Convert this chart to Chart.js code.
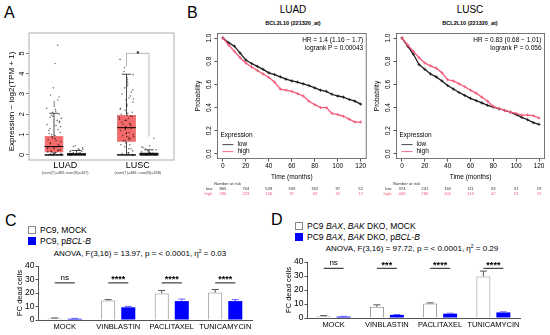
<!DOCTYPE html>
<html><head><meta charset="utf-8">
<script src="https://cdn.jsdelivr.net/npm/chart.js@4.4.1/dist/chart.umd.min.js"></script>
<style>
html,body{margin:0;padding:0;background:#fff;}
body{width:550px;height:335px;position:relative;overflow:hidden;font-family:"Liberation Sans",Arial,sans-serif;color:#000;}
canvas{position:absolute;}
.t{position:absolute;white-space:nowrap;line-height:1;}
.c{transform:translateX(-50%);}
.sw{position:absolute;width:8px;height:8px;box-sizing:border-box;}
</style></head><body>
<div class="t" style="left:4px;top:5px;font-size:16px">A</div>
<div class="t" style="left:187px;top:5px;font-size:16px">B</div>
<div class="t" style="left:5px;top:213px;font-size:16px">C</div>
<div class="t" style="left:271px;top:212px;font-size:16px">D</div>

<div class="t c" style="left:293px;top:5px;font-size:10px">LUAD</div>
<div class="t c" style="left:293px;top:21px;font-size:5.5px;font-weight:bold">BCL2L10 (221320_at)</div>
<div class="t c" style="left:470px;top:5px;font-size:10px">LUSC</div>
<div class="t c" style="left:470px;top:21px;font-size:5.5px;font-weight:bold">BCL2L10 (221320_at)</div>

<div class="sw" style="left:28px;top:226px;border:1px solid #888;background:#fff"></div>
<div class="t" style="left:40px;top:226px;font-size:8.5px">PC9, MOCK</div>
<div class="sw" style="left:28px;top:237px;background:#0000ff"></div>
<div class="t" style="left:40px;top:237px;font-size:8.5px">PC9, p<i>BCL-B</i></div>
<div class="t c" style="left:140px;top:249px;font-size:8px">ANOVA, F(3,16) = 13.97, p = &lt; 0.0001, η<sup style="font-size:5px;vertical-align:3px">2</sup> = 0.03</div>

<div class="sw" style="left:295px;top:222px;border:1px solid #888;background:#fff"></div>
<div class="t" style="left:307px;top:222px;font-size:8.5px">PC9 <i>BAX</i>, <i>BAK</i> DKO, MOCK</div>
<div class="sw" style="left:295px;top:233px;background:#0000ff"></div>
<div class="t" style="left:307px;top:233px;font-size:8.5px">PC9 <i>BAX</i>, <i>BAK</i> DKO, p<i>BCL-B</i></div>
<div class="t c" style="left:412px;top:244px;font-size:8px">ANOVA, F(3,16) = 97.72, p = &lt; 0.0001, η<sup style="font-size:5px;vertical-align:3px">2</sup> = 0.29</div>

<canvas id="cA" width="185" height="180" style="left:0;top:0"></canvas>
<canvas id="cB1" width="186" height="200" style="left:185px;top:0"></canvas>
<canvas id="cB2" width="179" height="200" style="left:371px;top:0"></canvas>
<canvas id="cC" width="275" height="77" style="left:0;top:258px"></canvas>
<canvas id="cD" width="275" height="80" style="left:275px;top:255px"></canvas>

<script>
// ================= DATA =================
// Panel A (GEPIA box plots)
const aCategories = ['LUAD', 'LUSC'];
const aSampleCounts = ['(num(T)=483; num(N)=347)', '(num(T)=486; num(N)=338)'];
const aYTicks = [0, 1, 2, 3, 4, 5];
const aTumorQ1 = [0.12, 0.65];
const aTumorMedian = [0.41, 1.34];
const aTumorQ3 = [0.93, 1.97];
const aTumorMin = [0, 0];
const aTumorMax = [2.05, 3.97];
const aNormalQ1 = [0.01, 0.01];
const aNormalMedian = [0.05, 0.06];
const aNormalQ3 = [0.10, 0.12];
const aNormalMin = [0, 0];
const aNormalMax = [0.22, 0.25];
const aLuadTumorPoints = [5.4, 4.5, 3.3, 2.95, 2.85, 2.7, 2.6, 2.5, 2.4, 2.3, 2.25, 2.15, 2.1, 2.0, 1.95, 1.9, 1.85, 1.8, 1.7, 1.65, 1.6, 1.5, 1.45, 1.4, 1.3, 1.25, 1.2, 1.1, 1.05, 1.0, 0.95, 0.9, 0.85, 0.8, 0.75, 0.7, 0.65, 0.6, 0.55, 0.5, 0.45, 0.4, 0.35, 0.3, 0.25, 0.2, 0.15, 0.1, 0.05, 0.02, 0.0, 0.0, 0.35, 0.3, 0.25, 0.2, 0.15, 0.12, 0.1, 0.08, 0.05, 0.03, 0.0, 0.0, 0.0];
const aLuscTumorPoints = [4.7, 4.3, 4.1, 3.95, 3.8, 3.7, 3.6, 3.5, 3.4, 3.3, 3.2, 3.1, 3.0, 2.9, 2.8, 2.75, 2.7, 2.6, 2.5, 2.45, 2.4, 2.3, 2.25, 2.2, 2.1, 2.05, 2.0, 1.95, 1.9, 1.85, 1.8, 1.75, 1.7, 1.6, 1.55, 1.5, 1.45, 1.4, 1.35, 1.3, 1.25, 1.2, 1.1, 1.05, 1.0, 0.95, 0.9, 0.85, 0.8, 0.75, 0.7, 0.6, 0.5, 0.4, 0.3, 0.2, 0.1, 0.05, 0.0, 0.0, 1.9, 1.7, 1.5, 1.3, 1.1, 0.9, 0.7, 0.5, 0.3, 0.1];
const aLuadNormalPoints = [0.45, 0.4, 0.35, 0.3, 0.28, 0.25, 0.2, 0.18, 0.15, 0.12, 0.1, 0.08, 0.06, 0.05, 0.04, 0.03, 0.02, 0.01, 0.0, 0.0];
const aLuscNormalPoints = [0.82, 0.45, 0.4, 0.35, 0.3, 0.25, 0.2, 0.15, 0.12, 0.1, 0.08, 0.06, 0.05, 0.04, 0.03, 0.02, 0.01, 0.0, 0.0];

// Panel B (Kaplan-Meier)
const kmMonths = [0,5,10,15,20,25,30,35,40,45,50,55,60,65,70,75,80,85,90,95,100,105,110,115,120];
const kmXTicks = [0, 20, 40, 60, 80, 100, 120];
const kmYTicks = [0, 0.2, 0.4, 0.6, 0.8, 1.0];
const luadLow  = [1.0,0.96,0.93,0.87,0.81,0.78,0.755,0.73,0.70,0.685,0.665,0.645,0.63,0.62,0.605,0.59,0.57,0.55,0.54,0.515,0.50,0.49,0.47,0.455,0.43];
const luadHigh = [1.0,0.94,0.885,0.83,0.785,0.75,0.72,0.69,0.66,0.62,0.56,0.55,0.54,0.52,0.50,0.455,0.425,0.40,0.40,0.35,0.34,0.325,0.30,0.275,0.275];
const luscLow  = [1.0,0.93,0.86,0.77,0.73,0.69,0.665,0.63,0.59,0.56,0.53,0.505,0.48,0.46,0.44,0.42,0.405,0.39,0.375,0.36,0.34,0.315,0.295,0.27,0.255];
const luscHigh = [1.0,0.94,0.885,0.83,0.785,0.76,0.74,0.70,0.64,0.63,0.605,0.58,0.55,0.525,0.49,0.455,0.41,0.39,0.375,0.36,0.35,0.335,0.335,0.33,0.31];
const riskMonths = [0, 20, 40, 60, 80, 100, 120];
const luadRiskLow  = [865, 704, 528, 359, 182, 97, 52];
const luadRiskHigh = [296, 223, 156, 97, 43, 20, 12];
const luscRiskLow  = [374, 241, 160, 111, 53, 31, 19];
const luscRiskHigh = [406, 280, 202, 143, 42, 24, 15];

// Panels C and D (bar charts)
const drugCategories = ['MOCK', 'VINBLASTIN', 'PACLITAXEL', 'TUNICAMYCIN'];
const barYTicks = [0, 10, 20, 30, 40];
const cMock = [1.1, 14.5, 19.7, 20.3];
const cMockErr = [0.4, 0.6, 2.2, 2.3];
const cBclb = [0.9, 9.4, 14.0, 14.0];
const cBclbErr = [0.3, 0.7, 1.5, 1.1];
const cSig = ['ns', '****', '****', '****'];
const dMock = [1.3, 8.0, 10.4, 29.7];
const dMockErr = [0.4, 1.4, 0.4, 3.8];
const dBclb = [1.0, 2.2, 3.1, 4.0];
const dBclbErr = [0.2, 0.3, 0.3, 0.4];
const dSig = ['ns', '***', '****', '****'];

// ================= HELPERS =================
const SANS = '"Liberation Sans", Arial, sans-serif';
function rotText(ctx, txt, x, y, font) {
  ctx.save(); ctx.translate(x, y); ctx.rotate(-Math.PI / 2);
  ctx.font = font; ctx.textAlign = 'center'; ctx.textBaseline = 'middle';
  ctx.fillText(txt, 0, 0); ctx.restore();
}
function line(ctx, x1, y1, x2, y2) { ctx.beginPath(); ctx.moveTo(x1, y1); ctx.lineTo(x2, y2); ctx.stroke(); }
const fixedTicks = arr => (s => { s.ticks = arr.map(v => ({ value: v })); });
// deterministic horizontal jitter in [-0.5, 0.5)
function jitter(i, j) { const h = Math.sin((j + 1) * 12.9898 + (i + 1) * 78.233) * 43758.5453; return h - Math.floor(h) - 0.5; }

// ================= PANEL A =================
const boxExtras = {
  id: 'boxExtras',
  afterDatasetsDraw(chart) {
    const { ctx, chartArea: a, scales: { x, y } } = chart;
    const groups = [
      { ds: 0, lo: aTumorMin, hi: aTumorMax, q1: aTumorQ1, q3: aTumorQ3, med: aTumorMedian, pts: [aLuadTumorPoints, aLuscTumorPoints] },
      { ds: 1, lo: aNormalMin, hi: aNormalMax, q1: aNormalQ1, q3: aNormalQ3, med: aNormalMedian, pts: [aLuadNormalPoints, aLuscNormalPoints] }
    ];
    ctx.save();
    groups.forEach(g => {
      chart.getDatasetMeta(g.ds).data.forEach((bar, i) => {
        const cx = bar.x, w = bar.width;
        ctx.strokeStyle = '#000'; ctx.lineWidth = 0.7;
        line(ctx, cx, y.getPixelForValue(g.q3[i]), cx, y.getPixelForValue(g.hi[i]));
        line(ctx, cx, y.getPixelForValue(g.q1[i]), cx, y.getPixelForValue(g.lo[i]));
        line(ctx, cx - w * 0.25, y.getPixelForValue(g.hi[i]), cx + w * 0.25, y.getPixelForValue(g.hi[i]));
        ctx.lineWidth = 1.4;
        line(ctx, cx - w * 0.5, y.getPixelForValue(g.lo[i]), cx + w * 0.5, y.getPixelForValue(g.lo[i]));
        ctx.fillStyle = 'rgba(0,0,0,0.55)';
        g.pts[i].forEach((v, j) => {
          const off = jitter(g.ds * 2 + i, j) * w * 0.8;
          ctx.beginPath(); ctx.arc(cx + off, y.getPixelForValue(v), 0.8, 0, Math.PI * 2); ctx.fill();
        });
        ctx.strokeStyle = '#000'; ctx.lineWidth = 1;
        line(ctx, bar.x - w / 2, y.getPixelForValue(g.med[i]), bar.x + w / 2, y.getPixelForValue(g.med[i]));
      });
    });
    // significance bracket (LUSC)
    const t = chart.getDatasetMeta(0).data[1], n = chart.getDatasetMeta(1).data[1];
    ctx.strokeStyle = '#999'; ctx.lineWidth = 0.7;
    const yb = y.getPixelForValue(5.0);
    line(ctx, t.x, yb, n.x, yb);
    line(ctx, t.x, yb, t.x, y.getPixelForValue(4.35));
    line(ctx, n.x, yb, n.x, y.getPixelForValue(0.9));
    ctx.fillStyle = '#000'; ctx.font = 'bold 7px ' + SANS; ctx.textAlign = 'center'; ctx.textBaseline = 'middle';
    ctx.fillText('*', (t.x + n.x) / 2, yb + 0.5);
    // frame
    ctx.strokeStyle = '#999'; ctx.lineWidth = 0.8;
    ctx.strokeRect(a.left, a.top, a.right - a.left, a.bottom - a.top);
    // y tick labels and title
    ctx.fillStyle = '#000';
    aYTicks.forEach(v => rotText(ctx, String(v), a.left - 7, y.getPixelForValue(v), '7.5px ' + SANS));
    rotText(ctx, 'Expression \u2212 log2(TPM + 1)', a.left - 17, (a.top + a.bottom) / 2 + 5, '8px ' + SANS);
    // category labels and sample counts
    ctx.font = '9px ' + SANS; ctx.fillStyle = '#000'; ctx.textBaseline = 'middle';
    aCategories.forEach((s, i) => ctx.fillText(s, x.getPixelForValue(i), a.bottom + 6));
    ctx.font = '3.8px ' + SANS; ctx.fillStyle = '#444';
    aSampleCounts.forEach((s, i) => ctx.fillText(s, x.getPixelForValue(i), a.bottom + 13));
    ctx.restore();
  }
};

new Chart(document.getElementById('cA'), {
  type: 'bar',
  data: {
    labels: aCategories,
    datasets: [
      { label: 'Tumor', data: aTumorQ1.map((q, i) => [q, aTumorQ3[i]]), backgroundColor: 'rgba(244,90,90,0.9)', borderColor: '#c84040', borderWidth: 0.6, borderSkipped: false, barPercentage: 0.84, categoryPercentage: 0.62 },
      { label: 'Normal', data: aNormalQ1.map((q, i) => [q, aNormalQ3[i]]), backgroundColor: '#777', borderColor: '#222', borderWidth: 0.6, borderSkipped: false, barPercentage: 0.84, categoryPercentage: 0.62 }
    ]
  },
  options: {
    responsive: false, animation: false,
    layout: { padding: { left: 0, top: 33, right: 11, bottom: 0 } },
    plugins: { legend: { display: false }, tooltip: { enabled: false } },
    scales: {
      x: { grid: { display: false, drawTicks: false }, border: { display: false }, ticks: { display: false }, afterFit: s => { s.height = 20; } },
      y: { min: -0.25, max: 6.0, afterBuildTicks: fixedTicks(aYTicks), ticks: { display: false }, grid: { drawOnChartArea: false, tickLength: 3, color: '#777' }, border: { display: false }, afterFit: s => { s.width = 29; } }
    }
  },
  plugins: [boxExtras]
});

// ================= PANEL B =================
const kmExtras = {
  id: 'kmExtras',
  afterDraw(chart, args, o) {
    const { ctx, chartArea: a, scales: { x, y } } = chart;
    ctx.save();
    ctx.strokeStyle = '#555'; ctx.lineWidth = 0.8;
    ctx.strokeRect(a.left, a.top, a.right - a.left, a.bottom - a.top);
    ctx.fillStyle = '#000';
    kmYTicks.forEach(v => rotText(ctx, v.toFixed(1), a.left - 8.5, y.getPixelForValue(v), '6.5px ' + SANS));
    rotText(ctx, 'Probability', a.left - 19, (a.top + a.bottom) / 2, '6.5px ' + SANS);
    ctx.font = '6.5px ' + SANS; ctx.textAlign = 'center'; ctx.textBaseline = 'middle';
    ctx.fillText('Time (months)', (a.left + a.right) / 2, a.bottom + 18.5);
    ctx.textAlign = 'right';
    ctx.fillText(o.hr, a.right - 3, a.top + 7);
    ctx.fillText(o.p, a.right - 3, a.top + 15);
    ctx.textAlign = 'left';
    ctx.fillText('Expression', a.left + 3, a.bottom - 23);
    ctx.fillText('low', a.left + 20, a.bottom - 14);
    ctx.fillText('high', a.left + 20, a.bottom - 7);
    ctx.lineWidth = 0.9;
    ctx.strokeStyle = '#333'; line(ctx, a.left + 5, a.bottom - 14, a.left + 16, a.bottom - 14);
    ctx.strokeStyle = '#f25a78'; line(ctx, a.left + 5, a.bottom - 7, a.left + 16, a.bottom - 7);
    // number at risk table
    ctx.font = '4.2px ' + SANS; ctx.textAlign = 'center';
    ctx.fillStyle = '#333';
    ctx.fillText('Number at risk', x.getPixelForValue(4), a.bottom + 25.5);
    riskMonths.forEach((m, i) => {
      const px = x.getPixelForValue(m);
      ctx.fillStyle = '#333'; ctx.fillText(String(o.low[i]), px, a.bottom + 30.5);
      ctx.fillStyle = '#f25a78'; ctx.fillText(String(o.high[i]), px, a.bottom + 35.5);
    });
    ctx.textAlign = 'right';
    ctx.fillStyle = '#333'; ctx.fillText('low', a.left - 5, a.bottom + 30.5);
    ctx.fillStyle = '#f25a78'; ctx.fillText('high', a.left - 5, a.bottom + 35.5);
    ctx.restore();
  }
};

function kmChart(id, low, high, hr, p, riskLow, riskHigh, area) {
  const mk = (arr, color, label) => ({
    label, data: kmMonths.map((m, i) => ({ x: m, y: arr[i] })), borderColor: color, backgroundColor: color,
    borderWidth: 1.3, tension: 0, pointStyle: 'cross', pointRadius: 1.6, pointBorderWidth: 0.8, pointBorderColor: color, fill: false
  });
  new Chart(document.getElementById(id), {
    type: 'line',
    data: { datasets: [mk(high, '#f25a78', 'high'), mk(low, '#1a1a1a', 'low')] },
    options: {
      responsive: false, animation: false,
      layout: { padding: { left: 0, top: area.top, right: area.right, bottom: 0 } },
      plugins: { legend: { display: false }, tooltip: { enabled: false }, kmExtras: { hr, p, low: riskLow, high: riskHigh } },
      scales: {
        x: { type: 'linear', min: -4.8, max: 124.8, afterBuildTicks: fixedTicks(kmXTicks),
             ticks: { color: '#000', font: { size: 6.5, family: SANS }, padding: 1, maxRotation: 0, autoSkip: false },
             grid: { drawOnChartArea: false, tickLength: 3, color: '#555' }, border: { display: false },
             afterFit: s => { s.height = area.xh; } },
        y: { min: -0.04, max: 1.04, afterBuildTicks: fixedTicks(kmYTicks), ticks: { display: false },
             grid: { drawOnChartArea: false, tickLength: 3, color: '#555' }, border: { display: false },
             afterFit: s => { s.width = area.left; } }
      }
    },
    plugins: [kmExtras]
  });
}
kmChart('cB1', luadLow, luadHigh, 'HR = 1.4 (1.16 \u2212 1.7)', 'logrank P = 0.00043', luadRiskLow, luadRiskHigh, { left: 32.4, top: 33.4, right: 2.4, xh: 41.4 });
kmChart('cB2', luscLow, luscHigh, 'HR = 0.83 (0.68 \u2212 1.01)', 'logrank P = 0.056', luscRiskLow, luscRiskHigh, { left: 25.5, top: 33.4, right: 5.5, xh: 41.4 });

// ================= PANELS C, D =================
const barExtras = {
  id: 'barExtras',
  afterDatasetsDraw(chart, args, o) {
    const { ctx, chartArea: a, scales: { y } } = chart;
    ctx.save();
    [0, 1].forEach(di => {
      const vals = chart.data.datasets[di].data;
      ctx.strokeStyle = o.errColors[di]; ctx.lineWidth = 1;
      chart.getDatasetMeta(di).data.forEach((bar, i) => {
        const y0 = y.getPixelForValue(vals[i]), y1 = y.getPixelForValue(vals[i] + o.errs[di][i]);
        line(ctx, bar.x, y0, bar.x, y1);
        line(ctx, bar.x - 3.5, y1, bar.x + 3.5, y1);
      });
    });
    const m0 = chart.getDatasetMeta(0).data, m1 = chart.getDatasetMeta(1).data;
    const yl = y.getPixelForValue(o.sigY);
    ctx.strokeStyle = '#000'; ctx.lineWidth = 0.9; ctx.fillStyle = '#000';
    ctx.textAlign = 'center'; ctx.textBaseline = 'alphabetic';
    o.sig.forEach((s, i) => {
      line(ctx, m0[i].x, yl, m1[i].x, yl);
      ctx.font = (s === 'ns' ? '8px ' : 'bold 9px ') + SANS;
      ctx.fillText(s, (m0[i].x + m1[i].x) / 2, s === 'ns' ? yl - 3 : yl - 0.5);
    });
    ctx.fillStyle = '#000';
    rotText(ctx, 'FC dead cells', a.left - 18.5, (a.top + a.bottom) / 2, '7.5px ' + SANS);
    ctx.restore();
  }
};

function barChart(id, mock, mockErr, bclb, bclbErr, sig, sigY, area) {
  new Chart(document.getElementById(id), {
    type: 'bar',
    data: {
      labels: drugCategories,
      datasets: [
        { label: 'MOCK', data: mock, backgroundColor: '#fff', borderColor: '#8a8a8a', borderWidth: 1, borderSkipped: 'bottom', barPercentage: 0.7, categoryPercentage: 0.75 },
        { label: 'pBCL-B', data: bclb, backgroundColor: '#0000ff', borderColor: '#0000ff', borderWidth: 0, barPercentage: 0.7, categoryPercentage: 0.75 }
      ]
    },
    options: {
      responsive: false, animation: false,
      layout: { padding: { left: 0, top: area.top, right: area.right, bottom: 0 } },
      plugins: { legend: { display: false }, tooltip: { enabled: false },
                 barExtras: { errs: [mockErr, bclbErr], errColors: ['#555', '#6060ff'], sig, sigY } },
      scales: {
        x: { grid: { display: false, drawTicks: false, tickLength: 0 }, border: { display: true, color: '#555', width: 1 },
             ticks: { color: '#000', font: { size: 7.5, family: SANS }, padding: 2, maxRotation: 0, minRotation: 0, autoSkip: false },
             afterFit: s => { s.height = area.xh; } },
        y: { min: 0, max: 40, afterBuildTicks: fixedTicks(barYTicks),
             ticks: { color: '#000', font: { size: 8.5, family: SANS }, padding: 1 },
             grid: { drawOnChartArea: false, tickLength: 2.5, color: '#555' }, border: { display: true, color: '#555', width: 1 },
             afterFit: s => { s.width = area.left; } }
      }
    },
    plugins: [barExtras]
  });
}
barChart('cC', cMock, cMockErr, cBclb, cBclbErr, cSig, 27.5, { left: 38, top: 8, right: 23, xh: 15 });
barChart('cD', dMock, dMockErr, dBclb, dBclbErr, dSig, 35.5, { left: 32, top: 7, right: 30, xh: 17 });
</script>
</body></html>
